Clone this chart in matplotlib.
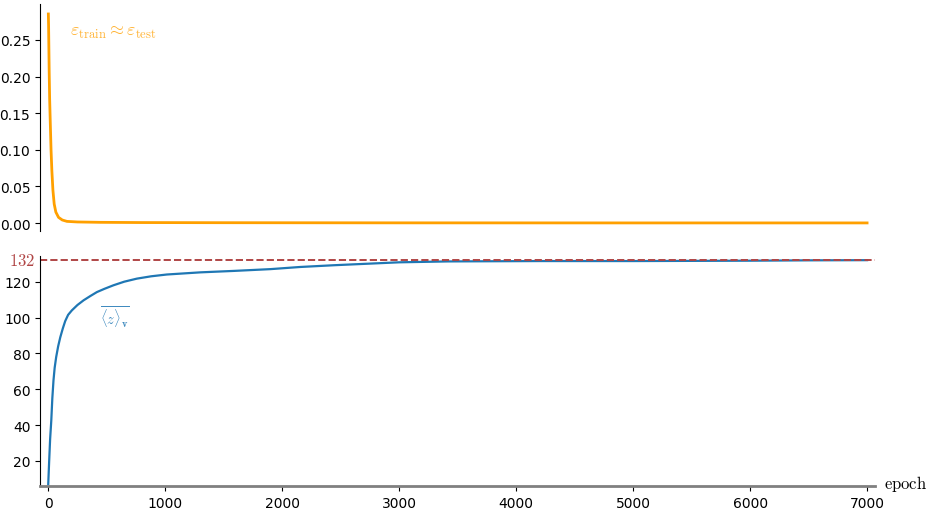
import matplotlib
matplotlib.use("Agg")
import matplotlib.pyplot as plt
import matplotlib.transforms as mtransforms

plt.rcParams['mathtext.fontset'] = 'cm'

# training / test error (top panel)
err_epoch = [1, 3, 8, 12, 17, 24, 31, 40, 51, 65, 88, 120, 160, 250, 444, 800, 1500, 3000, 5000, 7000]
err_value = [0.2855, 0.27, 0.208, 0.17, 0.140, 0.10, 0.0715, 0.045, 0.026, 0.015, 0.0078,
             0.0042, 0.0023, 0.0015, 0.001, 0.0007, 0.0005, 0.0003, 0.0002, 0.0002]

# mean <z>_v (bottom panel)
z_epoch = [0, 8, 16, 26, 35, 45, 55, 68, 85, 103, 125, 145, 170, 202, 250, 302, 360, 416,
           480, 558, 650, 758, 880, 1014, 1300, 1585, 1900, 2154, 2450, 2724, 3000, 3419,
           3800, 4200, 4600, 5000, 5500, 6000, 6500, 7000]
z_value = [7, 20, 32, 42.5, 55, 65, 72, 78, 84, 89, 94, 98, 101.5, 104, 107, 109.6, 112,
           114.2, 116, 118, 120, 121.7, 123, 124, 125.2, 126, 127, 128.2, 129.2, 130, 130.8,
           131.3, 131.4, 131.5, 131.5, 131.5, 131.6, 131.7, 131.9, 132.0]
z_target = 132

red = '#b04545'
orange = '#ffa000'
blue = '#1f77b4'

fig = plt.figure(figsize=(9.27, 5.1), dpi=100)
ax1 = fig.add_axes([0.0432, 0.545, 0.901, 0.445])
ax2 = fig.add_axes([0.0432, 0.045, 0.901, 0.451], sharex=ax1)

# top panel
ax1.plot(err_epoch, err_value, color=orange, lw=2)
ax1.set_ylim(-0.0109, 0.299)
ax1.set_yticks([0, 0.05, 0.10, 0.15, 0.20, 0.25])
ax1.set_yticklabels(['0.00', '0.05', '0.10', '0.15', '0.20', '0.25'])
for s in ['top', 'right', 'bottom']:
    ax1.spines[s].set_visible(False)
ax1.tick_params(axis='x', bottom=False, labelbottom=False)
ax1.text(188, 0.262, r'$\varepsilon_{\rm train} \approx \varepsilon_{\rm test}$',
         color=orange, alpha=0.8, fontsize=13, va='center', ha='left')

# bottom panel
ax2.plot(z_epoch, z_value, color=blue, lw=1.6)
ax2.axhline(z_target, color=red, ls='--', lw=1.4)
ax2.set_ylim(6, 134.3)
ax2.set_xlim(-70, 7070)
ax2.set_yticks([20, 40, 60, 80, 100, 120])
ax2.set_xticks(range(0, 7001, 1000))
for s in ['top', 'right']:
    ax2.spines[s].set_visible(False)
ax2.spines['bottom'].set_color('gray')
ax2.spines['bottom'].set_linewidth(2)
trans = mtransforms.blended_transform_factory(ax2.transAxes, ax2.transData)
ax2.text(-0.006, z_target, r'$132$', transform=trans, color=red, fontsize=12,
         ha='right', va='center')
ax2.text(444, 100.5, r'$\overline{\langle z \rangle_{\mathbf{v}}}$',
         color=blue, alpha=0.85, fontsize=10.5, va='center', ha='left')
ax2.text(1.01, 0.012, r'$\mathrm{epoch}$', transform=ax2.transAxes, fontsize=12,
         ha='left', va='center')

fig.savefig('out.png', dpi=100)
